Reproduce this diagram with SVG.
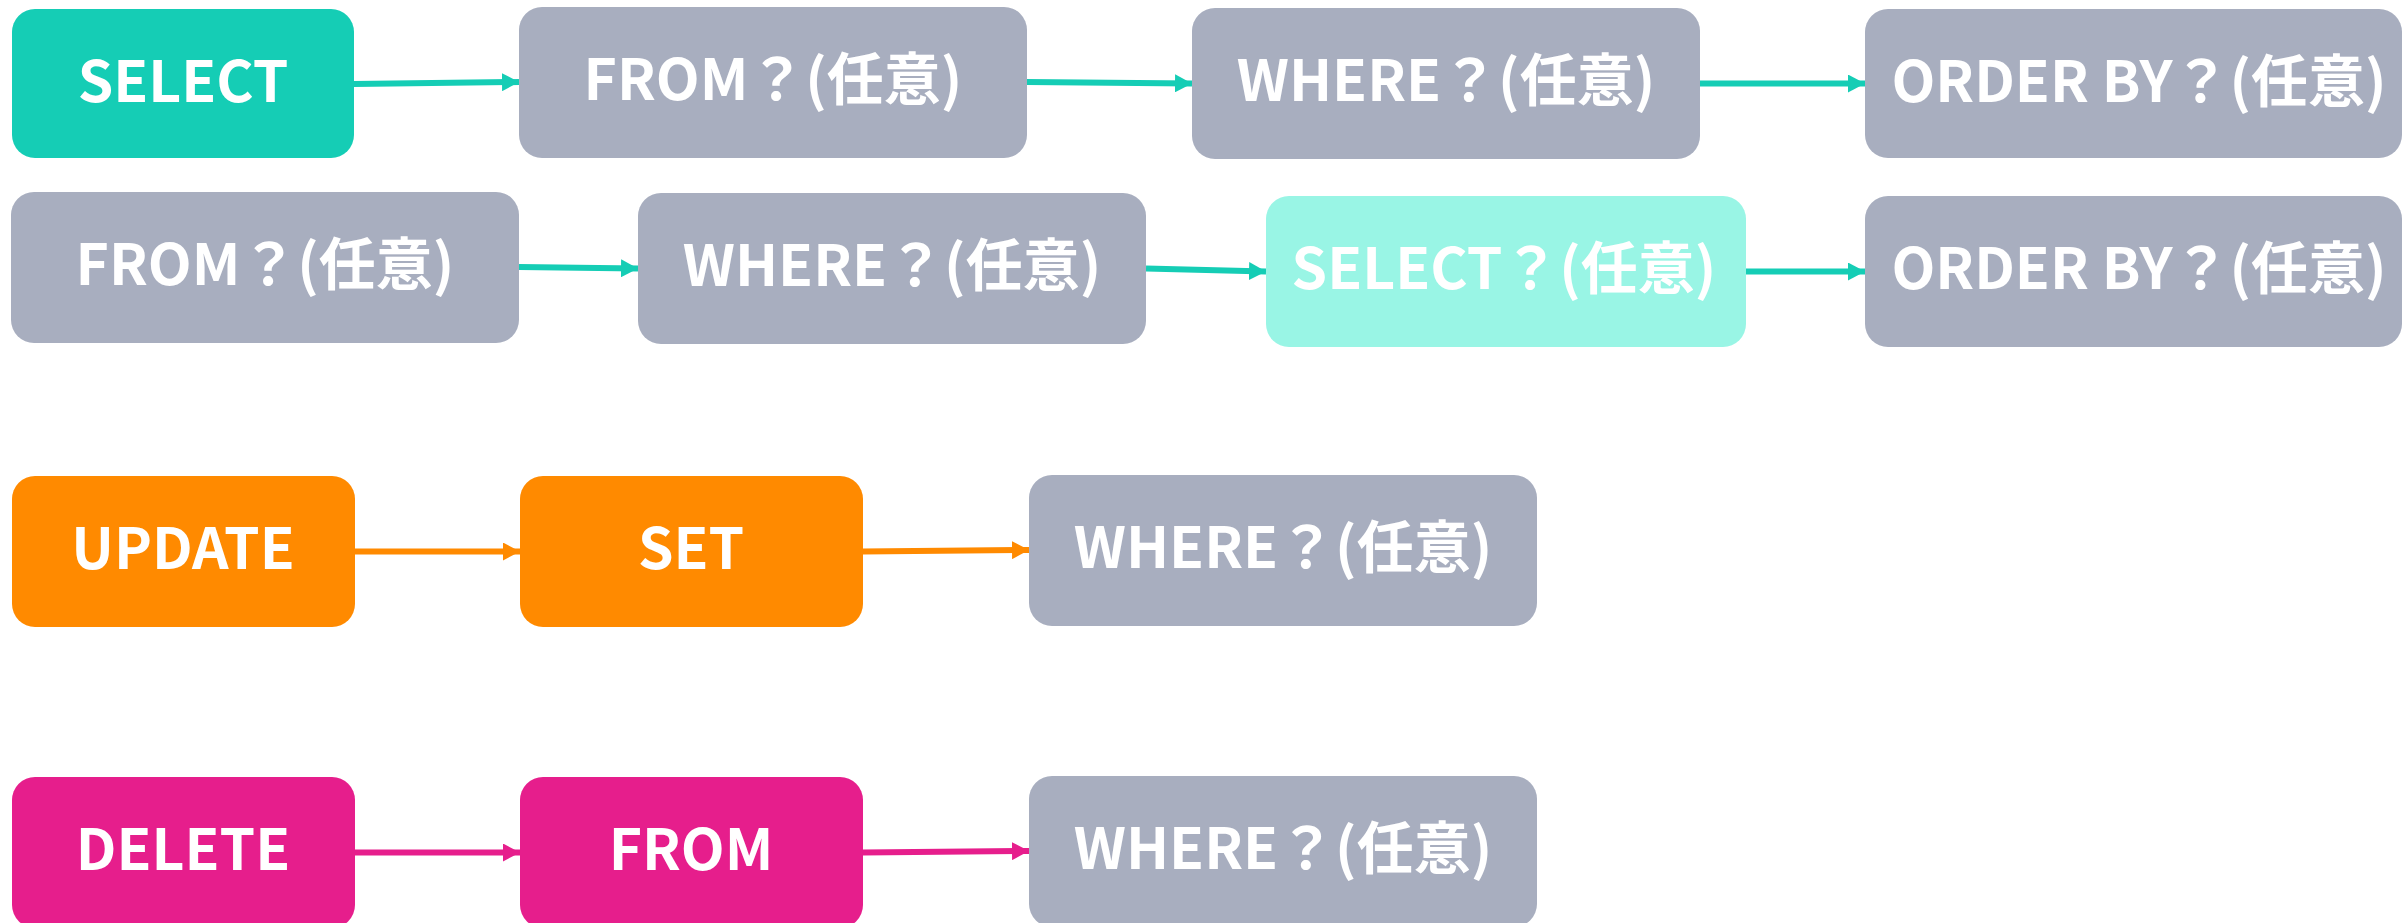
<svg xmlns="http://www.w3.org/2000/svg" width="2404" height="923" viewBox="0 0 2404 923">
<style>
.t{font-family:"Noto Sans CJK JP","Noto Sans",sans-serif;font-weight:700;font-size:57px;fill:#fff;text-anchor:middle}
.teal{fill:#15CDB5}.grey{fill:#A8AEBF}.lt{fill:#99F5E5}.org{fill:#FF8A00}.pink{fill:#E61E8C}
.c{stroke-width:6;fill:none}
</style>
<defs>
<marker id="aT" markerUnits="userSpaceOnUse" markerWidth="17" markerHeight="18" refX="17" refY="9" orient="auto"><path d="M0,0 L17,9 L0,18 Z" fill="#15CDB5"/></marker>
<marker id="aO" markerUnits="userSpaceOnUse" markerWidth="17" markerHeight="18" refX="17" refY="9" orient="auto"><path d="M0,0 L17,9 L0,18 Z" fill="#FF8A00"/></marker>
<marker id="aP" markerUnits="userSpaceOnUse" markerWidth="17" markerHeight="18" refX="17" refY="9" orient="auto"><path d="M0,0 L17,9 L0,18 Z" fill="#E61E8C"/></marker>
</defs>
<g id="connectors">
<line class="c" x1="354" y1="84" x2="519" y2="82" stroke="#15CDB5" marker-end="url(#aT)"/>
<line class="c" x1="1027" y1="82" x2="1192" y2="83.5" stroke="#15CDB5" marker-end="url(#aT)"/>
<line class="c" x1="1700" y1="83.5" x2="1865" y2="83.5" stroke="#15CDB5" marker-end="url(#aT)"/>
<line class="c" x1="519" y1="267" x2="638" y2="268.5" stroke="#15CDB5" marker-end="url(#aT)"/>
<line class="c" x1="1146" y1="268.5" x2="1266" y2="271.5" stroke="#15CDB5" marker-end="url(#aT)"/>
<line class="c" x1="1746" y1="271.5" x2="1865" y2="271.5" stroke="#15CDB5" marker-end="url(#aT)"/>
<line class="c" x1="355" y1="551.5" x2="520" y2="551.5" stroke="#FF8A00" marker-end="url(#aO)"/>
<line class="c" x1="863" y1="551.5" x2="1029" y2="550" stroke="#FF8A00" marker-end="url(#aO)"/>
<line class="c" x1="355" y1="852.5" x2="520" y2="852.5" stroke="#E61E8C" marker-end="url(#aP)"/>
<line class="c" x1="863" y1="852.5" x2="1029" y2="851" stroke="#E61E8C" marker-end="url(#aP)"/>
</g>
<g id="n1"><rect class="teal" x="12" y="9" width="342" height="149" rx="23"/><text class="t" x="183" y="102">SELECT</text></g>
<g id="n2"><rect class="grey" x="519" y="7" width="508" height="151" rx="23"/><text class="t" x="773" y="100">FROM？(任意)</text></g>
<g id="n3"><rect class="grey" x="1192" y="8" width="508" height="151" rx="23"/><text class="t" x="1446" y="101">WHERE？(任意)</text></g>
<g id="n4"><rect class="grey" x="1865" y="9" width="537" height="149" rx="23"/><text class="t" x="2139" y="102">ORDER BY？(任意)</text></g>
<g id="n5"><rect class="grey" x="11" y="192" width="508" height="151" rx="23"/><text class="t" x="265" y="285">FROM？(任意)</text></g>
<g id="n6"><rect class="grey" x="638" y="193" width="508" height="151" rx="23"/><text class="t" x="892" y="286">WHERE？(任意)</text></g>
<g id="n7"><rect class="lt" x="1266" y="196" width="480" height="151" rx="23"/><text class="t" x="1504" y="289">SELECT？(任意)</text></g>
<g id="n8"><rect class="grey" x="1865" y="196" width="537" height="151" rx="23"/><text class="t" x="2139" y="289">ORDER BY？(任意)</text></g>
<g id="n9"><rect class="org" x="12" y="476" width="343" height="151" rx="23"/><text class="t" x="183" y="569">UPDATE</text></g>
<g id="n10"><rect class="org" x="520" y="476" width="343" height="151" rx="23"/><text class="t" x="691" y="569">SET</text></g>
<g id="n11"><rect class="grey" x="1029" y="475" width="508" height="151" rx="23"/><text class="t" x="1283" y="568">WHERE？(任意)</text></g>
<g id="n12"><rect class="pink" x="12" y="777" width="343" height="151" rx="23"/><text class="t" x="183" y="870">DELETE</text></g>
<g id="n13"><rect class="pink" x="520" y="777" width="343" height="151" rx="23"/><text class="t" x="691" y="870">FROM</text></g>
<g id="n14"><rect class="grey" x="1029" y="776" width="508" height="151" rx="23"/><text class="t" x="1283" y="869">WHERE？(任意)</text></g>
</svg>
